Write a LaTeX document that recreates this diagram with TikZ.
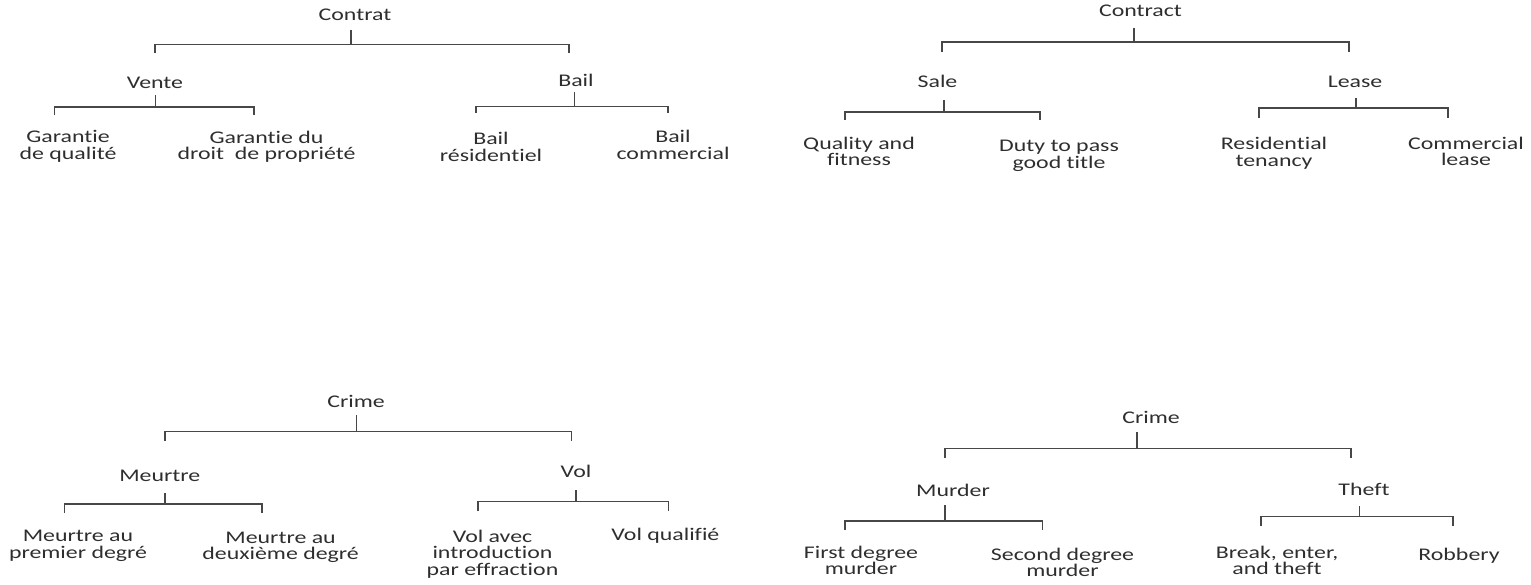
\documentclass[tikz,border=0pt]{standalone}
\usepackage{fontspec}
\setmainfont{Carlito}[FakeStretch=1.34, Ligatures=NoCommon]
\newcommand\labfont{\fontsize{17.8}{16.5}\selectfont\lineskiplimit=-20pt\relax}
\begin{document}
\begin{tikzpicture}[x=1pt,y=-1pt,
  lab/.style={anchor=base, inner sep=0pt, align=center, text=black!82,
    font=\labfont},
  ln/.style={draw=black!72, line width=1.5pt}]
\useasboundingbox (0,0) rectangle (1531,585);

% ---------- top left ----------
\node[lab] (contrat) at (355,20.7) {Contrat};
\node[lab] (vente) at (155,89) {Vente};
\node[lab] (bail) at (576,86.7) {Bail};
\node[lab] (gq) at (68,159.5) {Garantie\\de qualité};
\node[lab] (gd) at (266.5,159.8) {Garantie du\\droit\ \ de propriété};
\node[lab] (brs) at (491,161.5) {Bail\\résidentiel};
\node[lab] (bco) at (673,159.2) {Bail\\commercial};

\coordinate (a0) at (351,30);   \coordinate (a1) at (351,44.3);
\coordinate (aL) at (155,53);   \coordinate (aR) at (569,53);
\draw[ln] (a0) -- (a1);
\draw[ln] (aL) -- (aL |- a1) -- (aR |- a1) -- (aR);

\coordinate (b0) at (155.6,95); \coordinate (b1) at (155.6,107);
\coordinate (bL) at (54.7,115); \coordinate (bR) at (254,115);
\draw[ln] (b0) -- (b1);
\draw[ln] (bL) -- (bL |- b1) -- (bR |- b1) -- (bR);

\coordinate (c0) at (574.3,92); \coordinate (c1) at (574.3,106.7);
\coordinate (cL) at (476,113);  \coordinate (cR) at (668,113);
\draw[ln] (c0) -- (c1);
\draw[ln] (cL) -- (cL |- c1) -- (cR |- c1) -- (cR);

% ---------- top right ----------
\node[lab] (contract) at (1140.5,16.7) {Contract};
\node[lab] (sale) at (937.5,88) {Sale};
\node[lab] (lease) at (1355,87.3) {Lease};
\node[lab] (qf) at (859,165.8) {Quality and\\fitness};
\node[lab] (dt) at (1059,168.2) {Duty to pass\\good title};
\node[lab] (rt) at (1274,166.5) {Residential\\tenancy};
\node[lab] (cl) at (1466,165.8) {Commercial\\lease};

\coordinate (d0) at (1134,28);  \coordinate (d1) at (1134,42);
\coordinate (dL) at (942,52);   \coordinate (dR) at (1349,52);
\draw[ln] (d0) -- (d1);
\draw[ln] (dL) -- (dL |- d1) -- (dR |- d1) -- (dR);

\coordinate (e0) at (944,100);  \coordinate (e1) at (944,112);
\coordinate (eL) at (845,120);  \coordinate (eR) at (1040,120);
\draw[ln] (e0) -- (e1);
\draw[ln] (eL) -- (eL |- e1) -- (eR |- e1) -- (eR);

\coordinate (f0) at (1356,98);  \coordinate (f1) at (1356,108);
\coordinate (fL) at (1259,118); \coordinate (fR) at (1448,118);
\draw[ln] (f0) -- (f1);
\draw[ln] (fL) -- (fL |- f1) -- (fR |- f1) -- (fR);

% ---------- bottom left ----------
\node[lab] (crimeF) at (356,407.7) {Crime};
\node[lab] (meurtre) at (159.8,481) {Meurtre};
\node[lab] (vol) at (576,477.7) {Vol};
\node[lab] (m1) at (78,558.2) {Meurtre au\\premier degré};
\node[lab] (m2) at (280.6,559.8) {Meurtre au\\deuxième degré};
\node[lab] (v1) at (492.5,575.3) {Vol avec\\introduction\\par effraction};
\node[lab] (v2) at (665.4,540) {Vol qualifié};

\coordinate (g0) at (356.3,415); \coordinate (g1) at (356.3,431.7);
\coordinate (gL) at (165,441);   \coordinate (gR) at (571.6,441);
\draw[ln] (g0) -- (g1);
\draw[ln] (gL) -- (gL |- g1) -- (gR |- g1) -- (gR);

\coordinate (h0) at (165,493);   \coordinate (h1) at (165,504);
\coordinate (hL) at (64.6,513);  \coordinate (hR) at (262,513);
\draw[ln] (h0) -- (h1);
\draw[ln] (hL) -- (hL |- h1) -- (hR |- h1) -- (hR);

\coordinate (i0) at (576,490);   \coordinate (i1) at (576,501.7);
\coordinate (iL) at (478,511);   \coordinate (iR) at (668.7,511);
\draw[ln] (i0) -- (i1);
\draw[ln] (iL) -- (iL |- i1) -- (iR |- i1) -- (iR);

% ---------- bottom right ----------
\node[lab] (crimeE) at (1151,423.3) {Crime};
\node[lab] (murder) at (953,496.7) {Murder};
\node[lab] (theft) at (1364,495) {Theft};
\node[lab] (fdm) at (861,574.8) {First degree\\murder};
\node[lab] (sdm) at (1062.5,576.5) {Second degree\\murder};
\node[lab] (bet) at (1277,574.8) {Break, enter,\\and theft};
\node[lab] (rob) at (1459,560) {Robbery};

\coordinate (j0) at (1137,432);  \coordinate (j1) at (1137,448.3);
\coordinate (jL) at (945,458);   \coordinate (jR) at (1351,458);
\draw[ln] (j0) -- (j1);
\draw[ln] (jL) -- (jL |- j1) -- (jR |- j1) -- (jR);

\coordinate (k0) at (945,505);   \coordinate (k1) at (945,521);
\coordinate (kL) at (845,530);   \coordinate (kR) at (1042.5,530);
\draw[ln] (k0) -- (k1);
\draw[ln] (kL) -- (kL |- k1) -- (kR |- k1) -- (kR);

\coordinate (l0) at (1359.5,506); \coordinate (l1) at (1359.5,516.7);
\coordinate (lL) at (1261,526);   \coordinate (lR) at (1453,526);
\draw[ln] (l0) -- (l1);
\draw[ln] (lL) -- (lL |- l1) -- (lR |- l1) -- (lR);
\end{tikzpicture}
\end{document}
